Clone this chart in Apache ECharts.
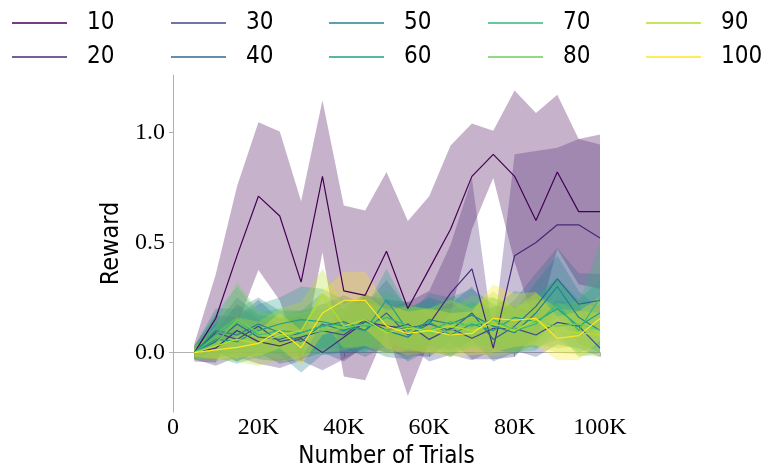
<!DOCTYPE html>
<html>
<head>
<meta charset="utf-8">
<script src="https://cdn.jsdelivr.net/npm/echarts@6/dist/echarts.min.js"></script>
<style>
html,body{margin:0;padding:0;background:#fff;}
#chart{width:764px;height:474px;}
</style>
</head>
<body>
<div id="chart"></div>
<script>
// ---- data ----
const trials = [5000,10000,15000,20000,25000,30000,35000,40000,45000,50000,55000,60000,65000,70000,75000,80000,85000,90000,95000,100000];
const seriesNames = ['10','20','30','40','50','60','70','80','90','100'];
const yTicks = [0, 0.5, 1.0];
const xTicks = [0, 20000, 40000, 60000, 80000, 100000];

const mean10 = [0.00,0.155,0.44,0.71,0.62,0.32,0.80,0.28,0.26,0.46,0.20,0.38,0.56,0.80,0.90,0.80,0.60,0.82,0.64,0.64];
const hw10   = [0.04,0.20,0.315,0.335,0.383,0.367,0.345,0.388,0.385,0.36,0.397,0.33,0.38,0.24,0.107,0.39,0.488,0.35,0.33,0.35];
const mean20 = [0.00,0.02,0.10,0.05,0.03,0.064,0.00,0.07,0.14,0.12,0.11,0.13,0.27,0.38,0.02,0.44,0.50,0.58,0.58,0.52];
const hw20   = [0.03,0.08,0.12,0.10,0.10,0.10,0.08,0.10,0.12,0.12,0.12,0.15,0.22,0.41,0.05,0.46,0.415,0.35,0.39,0.425];
const mean30 = [0.00,0.09,0.06,0.12,0.05,0.07,0.10,0.08,0.15,0.10,0.13,0.06,0.11,0.065,0.11,0.11,0.08,0.137,0.12,0.02];
const hw30   = [0.03,0.08,0.10,0.12,0.10,0.10,0.10,0.12,0.12,0.10,0.10,0.10,0.12,0.10,0.10,0.10,0.10,0.10,0.10,0.04];
const mean40 = [0.00,0.05,0.13,0.07,0.06,0.09,0.12,0.14,0.10,0.18,0.08,0.13,0.10,0.18,0.06,0.12,0.21,0.335,0.22,0.237];
const hw40   = [0.03,0.08,0.12,0.10,0.10,0.10,0.10,0.12,0.12,0.15,0.12,0.12,0.12,0.12,0.10,0.12,0.15,0.14,0.14,0.12];
const mean50 = [0.00,0.10,0.08,0.13,0.09,0.05,0.13,0.10,0.14,0.10,0.07,0.15,0.13,0.17,0.12,0.09,0.18,0.30,0.16,0.10];
const hw50   = [0.03,0.10,0.12,0.12,0.10,0.14,0.14,0.10,0.12,0.12,0.10,0.12,0.12,0.12,0.10,0.10,0.14,0.14,0.12,0.10];
const mean60 = [0.00,0.06,0.05,0.10,0.13,0.15,0.14,0.12,0.10,0.24,0.10,0.14,0.08,0.13,0.10,0.16,0.14,0.20,0.12,0.18];
const hw60   = [0.03,0.08,0.10,0.12,0.12,0.15,0.15,0.12,0.10,0.14,0.10,0.10,0.10,0.10,0.10,0.12,0.12,0.14,0.12,0.15];
const mean70 = [0.00,0.08,0.15,0.08,0.10,0.09,0.12,0.13,0.12,0.16,0.12,0.10,0.14,0.12,0.15,0.10,0.13,0.22,0.10,0.25];
const hw70   = [0.03,0.10,0.15,0.10,0.10,0.10,0.10,0.10,0.12,0.12,0.10,0.10,0.12,0.10,0.10,0.10,0.12,0.12,0.12,0.25];
const mean80 = [0.00,0.04,0.15,0.09,0.07,0.08,0.10,0.11,0.13,0.10,0.12,0.09,0.10,0.14,0.13,0.11,0.14,0.12,0.13,0.10];
const hw80   = [0.03,0.08,0.17,0.10,0.10,0.10,0.10,0.10,0.10,0.10,0.10,0.10,0.10,0.12,0.12,0.10,0.10,0.10,0.10,0.10];
const mean90 = [0.00,0.03,0.06,0.04,0.08,0.10,0.26,0.12,0.15,0.09,0.11,0.10,0.12,0.10,0.13,0.10,0.15,0.10,0.09,0.08];
const hw90   = [0.03,0.06,0.10,0.10,0.12,0.13,0.12,0.10,0.12,0.10,0.10,0.10,0.12,0.10,0.15,0.10,0.12,0.10,0.10,0.10];
const mean100= [0.00,0.012,0.024,0.042,0.10,0.022,0.18,0.237,0.237,0.12,0.087,0.10,0.08,0.087,0.155,0.147,0.155,0.065,0.077,0.155];
const hw100  = [0.02,0.04,0.05,0.06,0.08,0.08,0.10,0.13,0.13,0.10,0.10,0.10,0.10,0.10,0.155,0.12,0.12,0.10,0.11,0.10];

const means = [mean10,mean20,mean30,mean40,mean50,mean60,mean70,mean80,mean90,mean100];
const halfWidths = [hw10,hw20,hw30,hw40,hw50,hw60,hw70,hw80,hw90,hw100];
const colors = ['#440154','#482878','#3e4989','#31688e','#26828e','#1f9e89','#35b779','#6ece58','#b5de2b','#fde725'];

function rgba(hex, a) {
  const n = parseInt(hex.slice(1), 16);
  return 'rgba(' + ((n >> 16) & 255) + ',' + ((n >> 8) & 255) + ',' + (n & 255) + ',' + a + ')';
}

// ---- build ----
const series = [];
seriesNames.forEach((nm, k) => {
  const m = means[k], h = halfWidths[k], c = colors[k];
  series.push({
    name: nm, type: 'line', color: c, symbol: 'none',
    lineStyle: {width: 1.2, color: c},
    data: trials.map((x, i) => [x, m[i]]),
    z: 2
  });
  series.push({
    name: 'band' + nm, type: 'custom', silent: true, z: 2,
    encode: {x: 0, y: [1, 2]},
    data: trials.map((x, i) => [x, m[i] - h[i], m[i] + h[i]]),
    renderItem: (params, api) => {
      if (params.dataIndex !== 0) return null;
      const upper = trials.map((x, i) => api.coord([x, m[i] + h[i]]));
      const lower = trials.map((x, i) => api.coord([x, m[i] - h[i]])).reverse();
      return {
        type: 'polygon',
        shape: {points: upper.concat(lower)},
        style: {fill: rgba(c, 0.3), stroke: null}
      };
    }
  });
});

const sansFont = "'Liberation Sans Narrow','DejaVu Sans Condensed','Liberation Sans',sans-serif";
const colLeft = [12, 171, 329, 488, 646];
const legends = colLeft.map((l, j) => ({
  left: l, top: 10, orient: 'vertical', itemGap: 8, padding: 0,
  icon: 'rect', itemWidth: 55, itemHeight: 1.5,
  selectedMode: false,
  data: [seriesNames[2*j], seriesNames[2*j+1]],
  textStyle: {fontFamily: sansFont, fontSize: 24, lineHeight: 26, color: '#000', padding: [0,0,0,15]}
}));

const chart = echarts.init(document.getElementById('chart'), null, {renderer: 'canvas'});
chart.setOption({
  animation: false,
  backgroundColor: '#fff',
  legend: legends,
  grid: {left: 173, right: 164, top: 75, bottom: 60, containLabel: false},
  xAxis: {
    type: 'value', min: 0, max: 100000, interval: 20000,
    name: 'Number of Trials', nameLocation: 'middle', nameGap: 29,
    nameTextStyle: {fontFamily: sansFont, fontSize: 24, color: '#000'},
    axisLine: {lineStyle: {color: '#b0b0b0', width: 1}},
    axisTick: {show: true, length: 4, lineStyle: {color: '#b0b0b0'}},
    axisLabel: {fontFamily: "'Liberation Serif',serif", fontSize: 24, color: '#000', margin: 4,
      formatter: v => v === 0 ? '0' : (v/1000) + 'K'},
    splitLine: {show: false}
  },
  yAxis: {
    type: 'value', min: -0.27, max: 1.26,
    name: 'Reward', nameLocation: 'middle', nameGap: 40, nameRotate: 90,
    nameTextStyle: {fontFamily: sansFont, fontSize: 25, color: '#000'},
    axisLine: {show: true, lineStyle: {color: '#b0b0b0', width: 1}},
    axisTick: {show: true, length: 4, customValues: yTicks, lineStyle: {color: '#b0b0b0'}},
    axisLabel: {fontFamily: "'Liberation Serif',serif", fontSize: 24, color: '#000', margin: 8,
      customValues: yTicks, formatter: v => v.toFixed(1)},
    splitLine: {show: false}
  },
  series: series
});
</script>
</body>
</html>
